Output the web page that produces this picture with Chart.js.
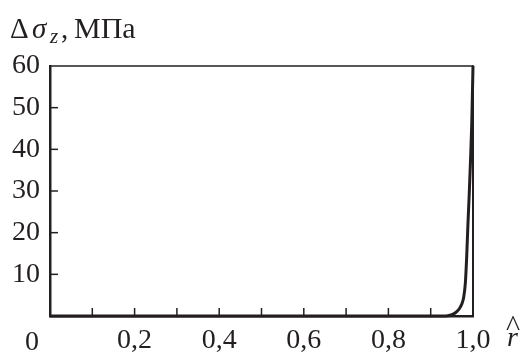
<!DOCTYPE html>
<html>
<head>
<meta charset="utf-8">
<script src="https://cdn.jsdelivr.net/npm/chart.js@4"></script>
<style>
  body { margin: 0; background: #fff; }
</style>
</head>
<body>
<canvas id="stressChart" width="525" height="356"></canvas>
<script>
// r^ (relative radius) and stress increment, MPa
var rValues = [0, 0.5, 0.93, 0.94, 0.95, 0.96, 0.968, 0.974, 0.978, 0.982, 0.985, 0.988, 0.991, 0.994, 0.997, 1.0];
var dSigma  = [0, 0, 0, 0.05, 0.3, 0.9, 1.8, 3, 4.5, 8, 14, 22, 29, 37, 46, 60];

var xLabelValues = [0.2, 0.4, 0.6, 0.8, 1.0];
var yLabelValues = [10, 20, 30, 40, 50, 60];

var ink = '#231f20';
var serif = '"Liberation Serif", "DejaVu Serif", serif';

var points = rValues.map(function (r, i) { return { x: r, y: dSigma[i] }; });

function hasValue(list, v) {
  return list.some(function (x) { return Math.abs(x - v) < 1e-6; });
}

var framePlugin = {
  id: 'frame',
  afterDraw: function (chart) {
    var c = chart.ctx, a = chart.chartArea;
    var xs = chart.scales.x, ys = chart.scales.y;
    c.save();
    c.strokeStyle = ink;
    c.lineCap = 'butt';

    // top and right side of the box
    c.lineWidth = 1.5;
    c.beginPath();
    c.moveTo(a.left, a.top);
    c.lineTo(a.right, a.top);
    c.stroke();
    c.lineWidth = 2;
    c.beginPath();
    c.moveTo(a.right, a.top - 0.75);
    c.lineTo(a.right, a.bottom);
    c.stroke();

    // inward tick marks
    c.lineWidth = 1.5;
    xs.ticks.forEach(function (t) {
      if (t.value <= 0.001 || t.value >= 0.999) return;
      var px = xs.getPixelForValue(t.value);
      c.beginPath();
      c.moveTo(px, a.bottom);
      c.lineTo(px, a.bottom - 8);
      c.stroke();
    });
    ys.ticks.forEach(function (t) {
      if (t.value <= 0 || t.value >= 60) return;
      var py = ys.getPixelForValue(t.value);
      c.beginPath();
      c.moveTo(a.left, py);
      c.lineTo(a.left + 8, py);
      c.stroke();
    });

    c.fillStyle = ink;
    c.textBaseline = 'alphabetic';

    // origin label "0"
    c.font = '28px ' + serif;
    c.textAlign = 'center';
    c.fillText('0', xs.getPixelForValue(0) - 18, a.bottom + 34);

    // axis label r^
    c.font = 'italic 28px ' + serif;
    c.textAlign = 'left';
    var rx = a.right + 34;
    c.fillText('r', rx, a.bottom + 30);
    c.font = '30px ' + serif;
    c.fillText('^', rx - 1, a.bottom + 20);

    // y title  Δσz, МПа
    var tx = a.left - 40, ty = a.top - 28;
    c.font = '29px ' + serif;
    c.fillText('\u0394', tx, ty);
    c.font = 'italic 29px ' + serif;
    c.fillText('\u03c3', tx + 22, ty);
    c.font = 'italic 21px ' + serif;
    c.fillText('z', tx + 40, ty + 5);
    c.font = '29px ' + serif;
    c.fillText(',', tx + 51, ty);
    c.font = '30px ' + serif;
    c.fillText('\u041c\u041f\u0430', tx + 64, ty);
    c.restore();
  }
};

var stressChart = new Chart(document.getElementById('stressChart'), {
  type: 'scatter',
  data: {
    datasets: [{
      data: points,
      showLine: true,
      borderColor: ink,
      borderWidth: 3,
      pointRadius: 0,
      cubicInterpolationMode: 'monotone',
      clip: false
    }]
  },
  options: {
    responsive: false,
    animation: false,
    layout: { padding: { top: 66, right: 52, left: 0, bottom: 0 } },
    plugins: { legend: { display: false }, tooltip: { enabled: false } },
    scales: {
      x: {
        type: 'linear',
        min: 0,
        max: 1,
        afterFit: function (s) { s.height = 40; },
        grid: { display: false, drawTicks: false },
        border: { display: true, color: ink, width: 2.5 },
        ticks: {
          stepSize: 0.1,
          autoSkip: false,
          maxRotation: 0,
          padding: 8,
          color: ink,
          font: { family: serif, size: 28 },
          callback: function (v) {
            return hasValue(xLabelValues, v) ? v.toFixed(1).replace('.', ',') : '';
          }
        }
      },
      y: {
        min: 0,
        max: 60,
        afterFit: function (s) { s.width = 50; },
        grid: { display: false, drawTicks: false },
        border: { display: true, color: ink, width: 2.5 },
        ticks: {
          stepSize: 10,
          padding: 10,
          color: ink,
          font: { family: serif, size: 28 },
          callback: function (v) {
            return hasValue(yLabelValues, v) ? String(v) : '';
          }
        }
      }
    }
  },
  plugins: [framePlugin]
});
</script>
</body>
</html>
